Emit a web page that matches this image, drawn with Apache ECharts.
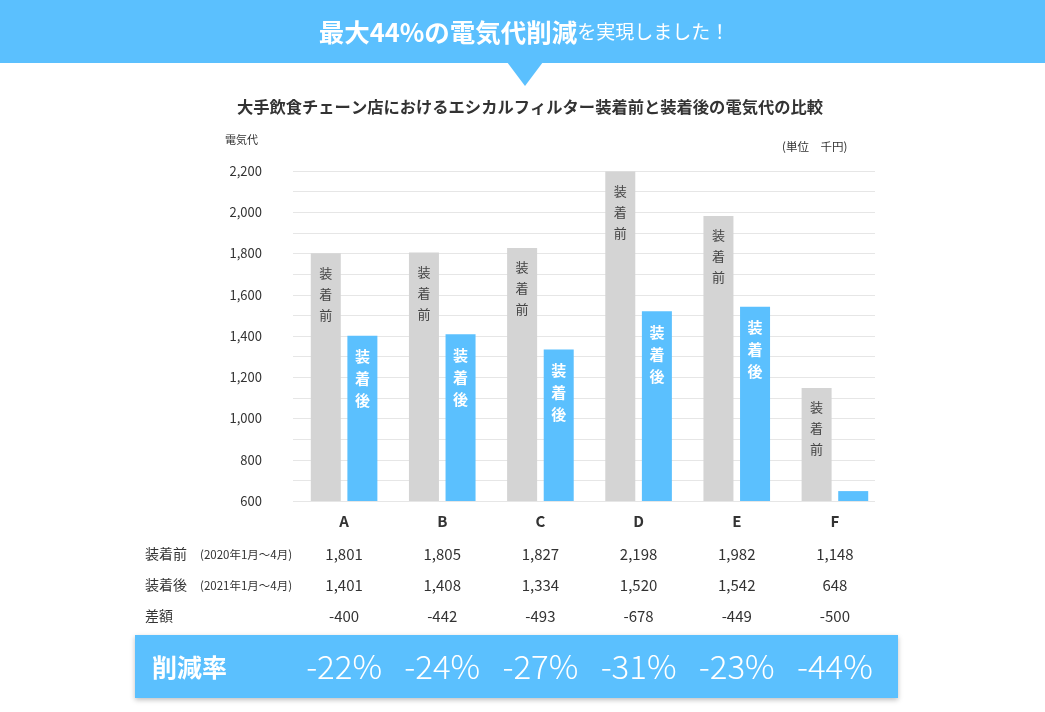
<!DOCTYPE html>
<html><head><meta charset="utf-8">
<script src="https://cdn.jsdelivr.net/npm/echarts@6/dist/echarts.min.js"></script>
<style>html,body{margin:0;padding:0;background:#fff;}#c{width:1045px;height:712px;}</style>
</head><body><div id="c"></div>
<script>
const categories = ['A','B','C','D','E','F'];
const beforeValues = [1801,1805,1827,2198,1982,1148];
const afterValues = [1401,1408,1334,1520,1542,648];
const diffValues = [-400,-442,-493,-678,-449,-500];
const rateValues = [-22,-24,-27,-31,-23,-44];
const yTicks = [600,800,1000,1200,1400,1600,1800,2000,2200];

const FONT = '"Noto Sans CJK JP", "Noto Sans", sans-serif';
const BLUE = '#5BC0FE';
const GRAY = '#D4D4D4';
const fmt = v => v.toLocaleString('en-US');

const chart = echarts.init(document.getElementById('c'), null, {renderer:'canvas'});

function tableAxis(data, margin, style){
  return {
    type:'category', gridIndex:1, position:'bottom', data:data,
    axisLine:{show:false}, axisTick:{show:false}, splitLine:{show:false},
    axisLabel:Object.assign({margin:margin, verticalAlign:'middle', interval:0, fontFamily:FONT, color:'#333', fontSize:15}, style||{})
  };
}

const option = {
  backgroundColor:'#fff',
  animation:false,
  textStyle:{fontFamily:FONT},
  grid:[
    {left:293, right:170, top:171, bottom:211},
    {left:295, right:161, top:171, bottom:211}
  ],
  xAxis:[
    {type:'category', gridIndex:0, data:categories, show:false},
    {type:'category', gridIndex:1, data:categories,
      axisLine:{show:false}, axisTick:{show:false},
      axisLabel:{margin:20, verticalAlign:'middle', fontSize:15, fontWeight:'bold', color:'#333', fontFamily:FONT}},
    tableAxis(beforeValues.map(fmt), 53),
    tableAxis(afterValues.map(fmt), 84),
    tableAxis(diffValues.map(String), 115),
    tableAxis(rateValues.map(v => v + '%'), 165, {color:'#fff', fontSize:33, fontWeight:300})
  ],
  yAxis:[
    {type:'value', gridIndex:0, min:yTicks[0], max:yTicks[yTicks.length-1], interval:100,
      axisLine:{show:false}, axisTick:{show:false},
      axisLabel:{margin:31, fontSize:13, color:'#333', fontFamily:FONT,
        formatter: v => yTicks.indexOf(v) >= 0 ? fmt(v) : ''},
      splitLine:{lineStyle:{color:'#E6E6E6', width:1}}},
    {type:'value', gridIndex:1, min:yTicks[0], max:yTicks[yTicks.length-1], interval:100, show:false, splitLine:{show:false}}
  ],
  series:[
    {name:'装着前', type:'bar', xAxisIndex:1, yAxisIndex:1, barWidth:30, barGap:'22%',
      data:beforeValues, itemStyle:{color:GRAY},
      label:{show:true, position:'insideTop', distance:9, formatter:'装\n着\n前', color:'#444', fontSize:13, lineHeight:21, fontFamily:FONT}},
    {name:'装着後', type:'bar', xAxisIndex:1, yAxisIndex:1, barWidth:30,
      data:afterValues.map(v => ({value:v, label:{show: v > 900}})), itemStyle:{color:BLUE},
      label:{show:true, position:'insideTop', distance:10, formatter:'装\n着\n後', color:'#fff', fontSize:15, fontWeight:'bold', lineHeight:22, fontFamily:FONT}}
  ],
  graphic:[
    {type:'rect', z:-1, shape:{x:0, y:0, width:1045, height:63}, style:{fill:BLUE}},
    {type:'polygon', z:-1, shape:{points:[[507,62],[543,62],[525,86]]}, style:{fill:BLUE}},
    {type:'text', x:524, y:32, style:{
      text:'{b|最大44%の電気代削減}{n|を実現しました！}',
      align:'center', verticalAlign:'middle',
      rich:{
        b:{fontSize:25.5, fontWeight:'bold', fill:'#fff', fontFamily:FONT},
        n:{fontSize:19, fill:'#fff', fontFamily:FONT}
      }}},
    {type:'text', x:530, y:107, style:{text:'大手飲食チェーン店におけるエシカルフィルター装着前と装着後の電気代の比較',
      align:'center', verticalAlign:'middle', fontSize:16.3, fontWeight:'bold', fill:'#333', fontFamily:FONT}},
    {type:'text', x:225, y:140, style:{text:'電気代', verticalAlign:'middle', fontSize:11, fill:'#333', fontFamily:FONT}},
    {type:'text', x:782, y:147, style:{text:'(単位　千円)', verticalAlign:'middle', fontSize:11.5, fill:'#333', fontFamily:FONT}},
    {type:'text', x:145, y:554, style:{text:'装着前', verticalAlign:'middle', fontSize:14, fill:'#333', fontFamily:FONT}},
    {type:'text', x:200, y:555, style:{text:'(2020年1月～4月)', verticalAlign:'middle', fontSize:11.5, fill:'#333', fontFamily:FONT}},
    {type:'text', x:145, y:585, style:{text:'装着後', verticalAlign:'middle', fontSize:14, fill:'#333', fontFamily:FONT}},
    {type:'text', x:200, y:586, style:{text:'(2021年1月～4月)', verticalAlign:'middle', fontSize:11.5, fill:'#333', fontFamily:FONT}},
    {type:'text', x:145, y:616, style:{text:'差額', verticalAlign:'middle', fontSize:14, fill:'#333', fontFamily:FONT}},
    {type:'rect', z:-1, shape:{x:135, y:635, width:763, height:63},
      style:{fill:BLUE, shadowBlur:5, shadowColor:'rgba(0,0,0,0.25)', shadowOffsetY:2}},
    {type:'text', x:152, y:667, style:{text:'削減率', verticalAlign:'middle', fontSize:25, fontWeight:'bold', fill:'#fff', fontFamily:FONT}}
  ]
};
chart.setOption(option);
</script>
</body></html>
